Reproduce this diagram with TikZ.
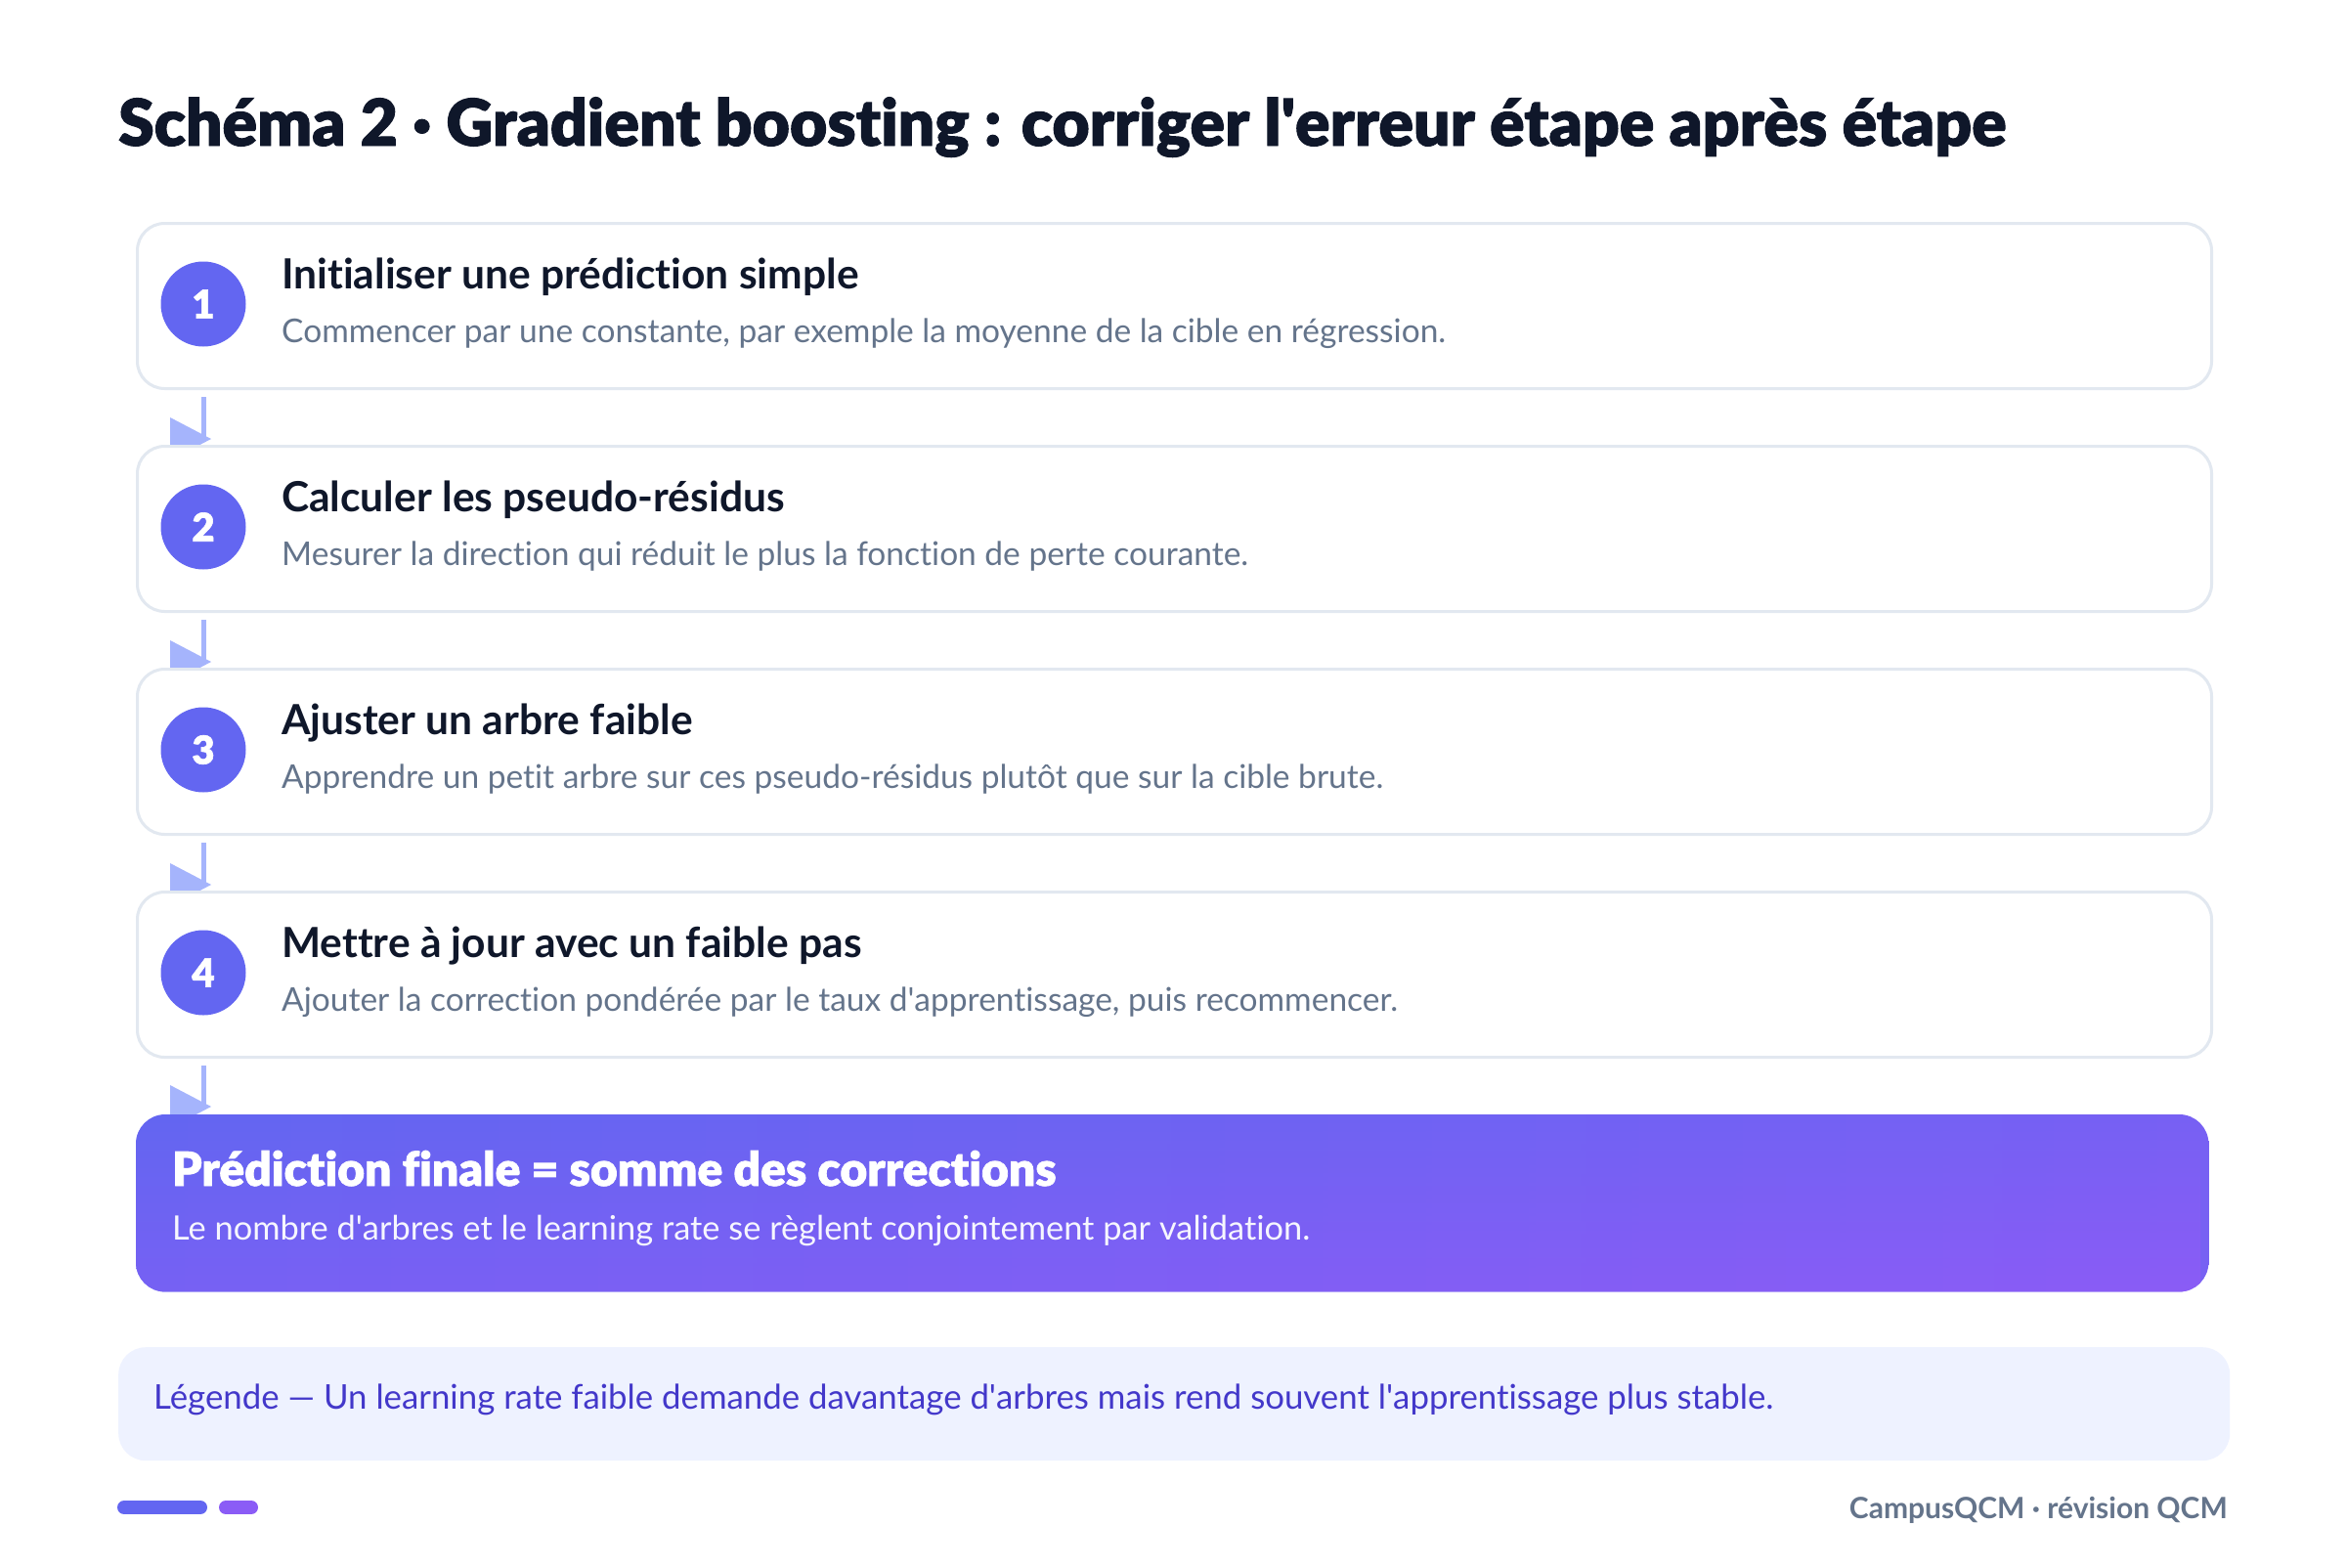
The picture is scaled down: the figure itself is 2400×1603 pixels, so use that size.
\documentclass[tikz,border=0pt]{standalone}
\usepackage{fontspec}
\setmainfont{Lato}[Ligatures={NoCommon}]
\newfontfamily\heavyfont{Lato Black}[FakeBold=1.5, Ligatures={NoCommon}]
\usetikzlibrary{calc,fadings}
\definecolor{ink}{HTML}{0F172A}
\definecolor{muted}{HTML}{64748B}
\definecolor{edge}{HTML}{E2E8F0}
\definecolor{indigo}{HTML}{6366F1}
\definecolor{violet}{HTML}{8B5CF6}
\definecolor{arrowc}{HTML}{A5B4FC}
\definecolor{legfill}{HTML}{EEF2FF}
\definecolor{legtext}{HTML}{4338CA}
\colorlet{midviolet}{indigo!50!violet}
\tikzfading[name=fadedown, top color=transparent!100, bottom color=transparent!0]
\pgfdeclarelayer{bg}
\pgfdeclarelayer{back}
\pgfsetlayers{bg,back,main}
\newcommand{\apos}{\textquotesingle}
\begin{document}
\begin{tikzpicture}[x=1pt,y=-1pt,
  stepbox/.style={draw=edge, line width=3pt, fill=white, rounded corners=28pt,
    minimum width=2122pt, minimum height=169pt, anchor=north west, inner sep=0pt},
  numcirc/.style={circle, fill=indigo, minimum size=87pt, inner sep=0pt, text=white,
    font=\heavyfont\fontsize{40}{40}\selectfont},
  steptitle/.style={anchor=base west, inner sep=0pt, text=ink,
    font=\bfseries\fontsize{42.5}{48}\selectfont},
  stepdesc/.style={anchor=base west, inner sep=0pt, text=muted,
    font=\fontsize{33.5}{40}\selectfont},
  conn/.style={draw=arrowc, line width=5pt},
  tipfill/.style={fill=arrowc},
  finalbox/.style={anchor=north west, minimum width=2120pt, minimum height=181pt,
    inner sep=0pt},
  finaltitle/.style={anchor=base west, inner sep=0pt, text=white,
    font=\heavyfont\fontsize{48}{54}\selectfont},
  finaldesc/.style={anchor=base west, inner sep=0pt, text=white!94!indigo,
    font=\fontsize{34.4}{40}\selectfont},
  legbox/.style={anchor=north west, fill=legfill, rounded corners=28pt,
    minimum width=2160pt, minimum height=116pt, inner sep=0pt},
  legtxt/.style={anchor=base west, inner sep=0pt, text=legtext,
    font=\fontsize{34.8}{40}\selectfont},
  foot/.style={anchor=base east, inner sep=0pt, text=muted,
    font=\bfseries\fontsize{30}{36}\selectfont},
  bar/.style={line width=14pt, line cap=round}
]
\useasboundingbox (0,0) rectangle (2400,1603);
\begin{pgfonlayer}{bg}
\fill[white] (0,0) rectangle (2400,1603);
\end{pgfonlayer}

% title
\node[anchor=base west, inner sep=0pt, text=ink, font=\heavyfont\fontsize{66}{72}\selectfont]
  (title) at (121,149) {Schéma 2 · Gradient boosting : corriger l\apos erreur étape après étape};

% steps
\node[stepbox] (s1) at (139,227) {};
\node[stepbox] (s2) at (139,455) {};
\node[stepbox] (s3) at (139,683) {};
\node[stepbox] (s4) at (139,911) {};

\node[numcirc] (c1) at (208,311) {1};
\node[numcirc] (c2) at (208,539) {2};
\node[numcirc] (c3) at (208,767) {3};
\node[numcirc] (c4) at (208,995) {4};

\node[steptitle] (t1) at (288,295) {Initialiser une prédiction simple};
\node[stepdesc]  (d1) at (288,350) {Commencer par une constante, par exemple la moyenne de la cible en régression.};
\node[steptitle] (t2) at (288,523) {Calculer les pseudo-résidus};
\node[stepdesc]  (d2) at (288,578) {Mesurer la direction qui réduit le plus la fonction de perte courante.};
\node[steptitle] (t3) at (288,751) {Ajuster un arbre faible};
\node[stepdesc]  (d3) at (288,806) {Apprendre un petit arbre sur ces pseudo-résidus plutôt que sur la cible brute.};
\node[steptitle] (t4) at (288,979) {Mettre à jour avec un faible pas};
\node[stepdesc]  (d4) at (288,1034) {Ajouter la correction pondérée par le taux d\apos apprentissage, puis recommencer.};

% final box (diagonal gradient over its bounding box)
\node[finalbox] (fin) at (139,1140) {};
\begin{scope}
\clip[rounded corners=30pt] (fin.north west) rectangle (fin.south east);
\shade[left color=indigo, right color=midviolet]
  ([xshift=-0.5pt,yshift=0.5pt]fin.north west) rectangle ([xshift=0.5pt,yshift=-0.5pt]fin.south east);
\shade[left color=midviolet, right color=violet, path fading=fadedown]
  ([xshift=-0.5pt,yshift=0.5pt]fin.north west) rectangle ([xshift=0.5pt,yshift=-0.5pt]fin.south east);
\end{scope}
\node[finaltitle] (ft) at (176,1213) {Prédiction finale = somme des corrections};
\node[finaldesc] (fd) at (176,1268) {Le nombre d\apos arbres et le learning rate se règlent conjointement par validation.};

% legend
\node[legbox] (leg) at (121,1378) {};
\node[legtxt] (lt) at (157,1441) {Légende — Un learning rate faible demande davantage d\apos arbres mais rend souvent l\apos apprentissage plus stable.};

% footer
\draw[bar, indigo] (127,1542) -- (205,1542);
\draw[bar, violet] (231,1542) -- (257,1542);
\node[foot] (brand) at (2279,1553) {CampusQCM · révision QCM};

% connectors
\begin{pgfonlayer}{back}
\draw[conn] ($(s1.south -| c1)+(0,7)$) -- ($(s2.north -| c1)+(0,-6)$) coordinate (e1);
\fill[tipfill] ($(e1)+(8,0)$) -- ++(-42,-22) -- ++(0,44) -- cycle;
\draw[conn] ($(s2.south -| c1)+(0,7)$) -- ($(s3.north -| c1)+(0,-6)$) coordinate (e2);
\fill[tipfill] ($(e2)+(8,0)$) -- ++(-42,-22) -- ++(0,44) -- cycle;
\draw[conn] ($(s3.south -| c1)+(0,7)$) -- ($(s4.north -| c1)+(0,-6)$) coordinate (e3);
\fill[tipfill] ($(e3)+(8,0)$) -- ++(-42,-22) -- ++(0,44) -- cycle;
\draw[conn] ($(s4.south -| c1)+(0,7)$) -- ($(fin.north -| c1)+(0,-8)$) coordinate (e4);
\fill[tipfill] ($(e4)+(8,0)$) -- ++(-42,-22) -- ++(0,44) -- cycle;
\end{pgfonlayer}
\end{tikzpicture}
\end{document}
